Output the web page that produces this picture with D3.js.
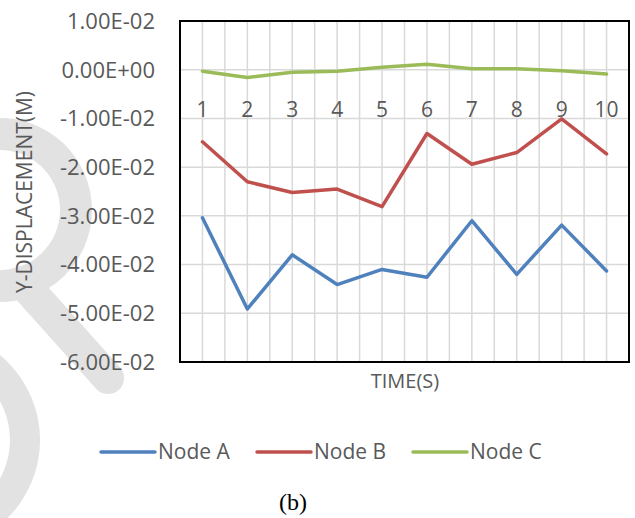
<!DOCTYPE html>
<html>
<head>
<meta charset="utf-8">
<script src="https://cdn.jsdelivr.net/npm/d3@7"></script>
<style>
  html, body { margin: 0; padding: 0; background: #fff; }
  svg { display: block; }
</style>
</head>
<body>
<svg id="chart" width="635" height="518"></svg>
<script>
// ---- data ----
const categories = ["1", "2", "3", "4", "5", "6", "7", "8", "9", "10"];
const nodeA = [-0.0304, -0.0491, -0.0380, -0.0441, -0.0410, -0.0426, -0.0310, -0.0420, -0.0319, -0.0413];
const nodeB = [-0.0148, -0.0230, -0.0252, -0.0245, -0.0281, -0.0131, -0.0194, -0.0170, -0.0101, -0.0173];
const nodeC = [-0.0003, -0.0016, -0.0005, -0.0003, 0.0005, 0.0011, 0.0002, 0.0002, -0.0002, -0.0009];
const seriesNames = ["Node A", "Node B", "Node C"];
const seriesColors = ["#4F81BD", "#C0504D", "#9BBB59"];
const yTickValues = [0.01, 0, -0.01, -0.02, -0.03, -0.04, -0.05, -0.06];
const yTickLabels = ["1.00E-02", "0.00E+00", "-1.00E-02", "-2.00E-02", "-3.00E-02", "-4.00E-02", "-5.00E-02", "-6.00E-02"];

const series = [nodeA, nodeB, nodeC];

const svg = d3.select("#chart");
const font = "'Open Sans', sans-serif";
const textColor = "#595959";

// ---- watermark (light grey background shape) ----
const wmColor = "#e2e2e2";
const wm = svg.append("g");
wm.append("path")
  .attr("d", d3.arc()({innerRadius: 60, outerRadius: 92, startAngle: -0.05, endAngle: Math.PI + 0.05}))
  .attr("transform", "translate(0,210)")
  .attr("fill", wmColor);
wm.append("path").attr("d", "M22,282 L108,378")
  .attr("fill", "none").attr("stroke", wmColor).attr("stroke-width", 32).attr("stroke-linecap", "round");
wm.append("path")
  .attr("d", d3.arc()({innerRadius: 80, outerRadius: 110, startAngle: 0, endAngle: Math.PI}))
  .attr("transform", "translate(-70,440)")
  .attr("fill", wmColor);

// ---- scales ----
const pLeft = 180, pRight = 629, pTop = 21, pBottom = 362;
const x = d3.scaleBand().domain(categories).range([pLeft, pRight]).paddingInner(0).paddingOuter(0);
const y = d3.scaleLinear().domain([-0.06, 0.01]).range([pBottom, pTop]);
const cx = c => x(c) + x.bandwidth() / 2;

// ---- gridlines ----
const grid = svg.append("g").attr("stroke", "#d9d9d9").attr("stroke-width", 1.5);
const vLines = [];
categories.forEach(c => { vLines.push(x(c)); vLines.push(cx(c)); });
vLines.push(pRight);
grid.selectAll("line.v").data(vLines).join("line").attr("class", "v")
  .attr("x1", d => d).attr("x2", d => d).attr("y1", pTop).attr("y2", pBottom);
grid.selectAll("line.h").data(yTickValues).join("line").attr("class", "h")
  .attr("x1", pLeft).attr("x2", pRight).attr("y1", d => y(d)).attr("y2", d => y(d));

// ---- border ----
svg.append("rect").attr("x", pLeft).attr("y", pTop).attr("width", pRight - pLeft).attr("height", pBottom - pTop)
  .attr("fill", "none").attr("stroke", "#000").attr("stroke-width", 2);

// ---- y axis labels ----
svg.append("g").selectAll("text").data(yTickValues).join("text")
  .attr("x", 155).attr("y", d => y(d)).attr("dy", "0.36em")
  .attr("text-anchor", "end").attr("font-family", font).attr("font-size", 22).attr("fill", textColor)
  .text((d, i) => yTickLabels[i]);

// ---- x axis labels (at zero line) ----
svg.append("g").selectAll("text").data(categories).join("text")
  .attr("x", d => cx(d)).attr("y", y(0) + 47).attr("text-anchor", "middle")
  .attr("font-family", font).attr("font-size", 21).attr("fill", textColor)
  .text(d => d);

// ---- axis titles ----
svg.append("text").attr("x", 405).attr("y", 388).attr("text-anchor", "middle")
  .attr("font-family", font).attr("font-size", 20).attr("fill", textColor).text("TIME(S)");
svg.append("text").attr("transform", "translate(32,192) rotate(-90)").attr("text-anchor", "middle")
  .attr("font-family", font).attr("font-size", 21).attr("fill", textColor).text("Y-DISPLACEMENT(M)");

// ---- lines ----
const line = d3.line().x((d, i) => cx(categories[i])).y(d => y(d));
svg.append("g").selectAll("path").data(series).join("path")
  .attr("d", d => line(d)).attr("fill", "none")
  .attr("stroke", (d, i) => seriesColors[i]).attr("stroke-width", 3.5)
  .attr("stroke-linejoin", "round").attr("stroke-linecap", "round");

// ---- legend ----
const legendX = [101, 257, 413];
const lg = svg.append("g").selectAll("g").data(seriesNames).join("g")
  .attr("transform", (d, i) => `translate(${legendX[i]},452)`);
lg.append("line").attr("x1", 0).attr("x2", 54).attr("y1", 0).attr("y2", 0)
  .attr("stroke", (d, i) => seriesColors[i]).attr("stroke-width", 3.5).attr("stroke-linecap", "round");
lg.append("text").attr("x", 57).attr("y", 7).attr("font-family", font).attr("font-size", 21)
  .attr("fill", textColor).text(d => d);

// ---- caption ----
svg.append("text").attr("x", 293).attr("y", 510).attr("text-anchor", "middle")
  .attr("font-family", "'Liberation Serif', 'Times New Roman', serif").attr("font-size", 24)
  .attr("fill", "#000").text("(b)");
</script>
</body>
</html>
